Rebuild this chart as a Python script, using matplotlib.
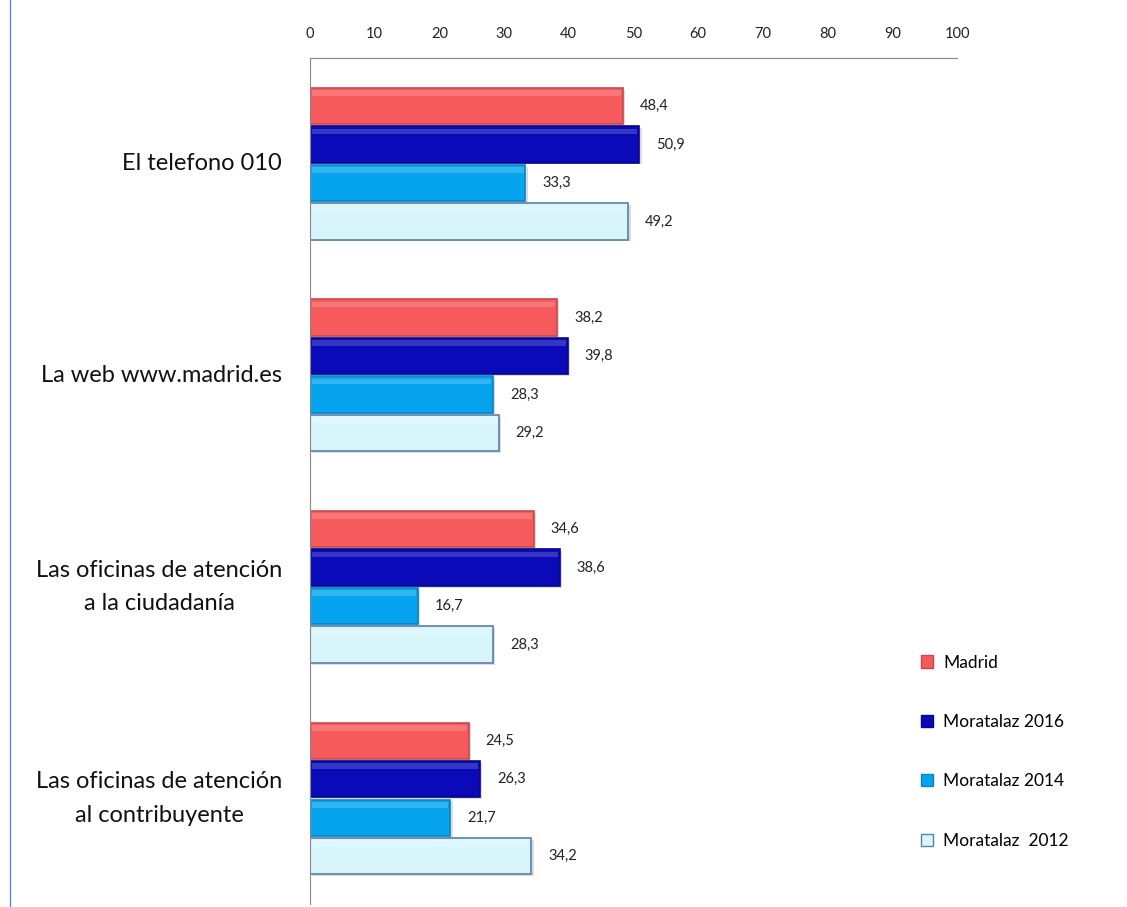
import numpy as np
import matplotlib.pyplot as plt
from matplotlib.lines import Line2D
from matplotlib.patches import Patch

plt.rcParams['font.family'] = ['Lato', 'DejaVu Sans']

# datos
categorias = ['El telefono 010', 'La web www.madrid.es',
              'Las oficinas de atención\na la ciudadanía',
              'Las oficinas de atención\nal contribuyente']
series = ['Madrid', 'Moratalaz 2016', 'Moratalaz 2014', 'Moratalaz  2012']
madrid = [48.4, 38.2, 34.6, 24.5]
mor_2016 = [50.9, 39.8, 38.6, 26.3]
mor_2014 = [33.3, 28.3, 16.7, 21.7]
mor_2012 = [49.2, 29.2, 28.3, 34.2]
valores = [madrid, mor_2016, mor_2014, mor_2012]

colores = ['#F65A5C', '#0A0AB8', '#06A4EE', '#D8F5FC']
bordes = ['#C84A4C', '#06068A', '#0585C4', '#5A80AA']

fig = plt.figure(figsize=(11.27, 9.07), dpi=100)
ax = fig.add_axes([310 / 1127, 0.003, 647 / 1127, 1 - 58 / 907 - 0.003])

paso = 0.182
alto = 0.172
y0 = np.arange(len(categorias)) + 0.5
for i, (vals, c, b) in enumerate(zip(valores, colores, bordes)):
    ys = y0 + (i - 1.5) * paso
    # sombra
    ax.barh(ys + 0.008, vals, height=alto, left=0.35, color='#bbbbbb', alpha=0.5, zorder=1)
    ax.barh(ys, vals, height=alto, color=c, edgecolor=b, linewidth=1.2, zorder=2)
    # brillo superior
    ax.barh(ys - alto * 0.36, [v - 0.6 for v in vals], height=alto * 0.16, left=0.3,
            color='white', alpha=0.18, linewidth=0, zorder=3)
    for y, v in zip(ys, vals):
        ax.text(v + 2.6, y, f'{v:.1f}'.replace('.', ','), va='center', ha='left',
                fontsize=10.5, color='#222222')

ax.set_xlim(0, 100)
ax.set_ylim(4, 0)
ax.set_xticks(np.arange(0, 101, 10))
ax.xaxis.tick_top()
ax.tick_params(axis='x', length=0, pad=12, labelsize=10.5, colors='#222222')
ax.set_yticks(y0)
ax.set_yticklabels(categorias, fontsize=17, ha='right', va='center', multialignment='center',
                   color='#111111', linespacing=1.75)
ax.tick_params(axis='y', length=0, pad=20)
for s in ['right', 'bottom']:
    ax.spines[s].set_visible(False)
ax.spines['top'].set_color('#888888')
ax.spines['left'].set_color('#888888')

handles = [Patch(facecolor=c, edgecolor=b) for c, b in zip(colores, bordes)]
fig.legend(handles, series, loc='upper left', bbox_to_anchor=(905 / 1127, 1 - 639 / 907),
           frameon=False, fontsize=12.5, handlelength=0.7, handleheight=0.7,
           handletextpad=0.6, labelspacing=2.5)

fig.add_artist(Line2D([10 / 1127, 10 / 1127], [0, 1], color='#5B8ED6', linewidth=1))

fig.savefig('out.png', dpi=100)
